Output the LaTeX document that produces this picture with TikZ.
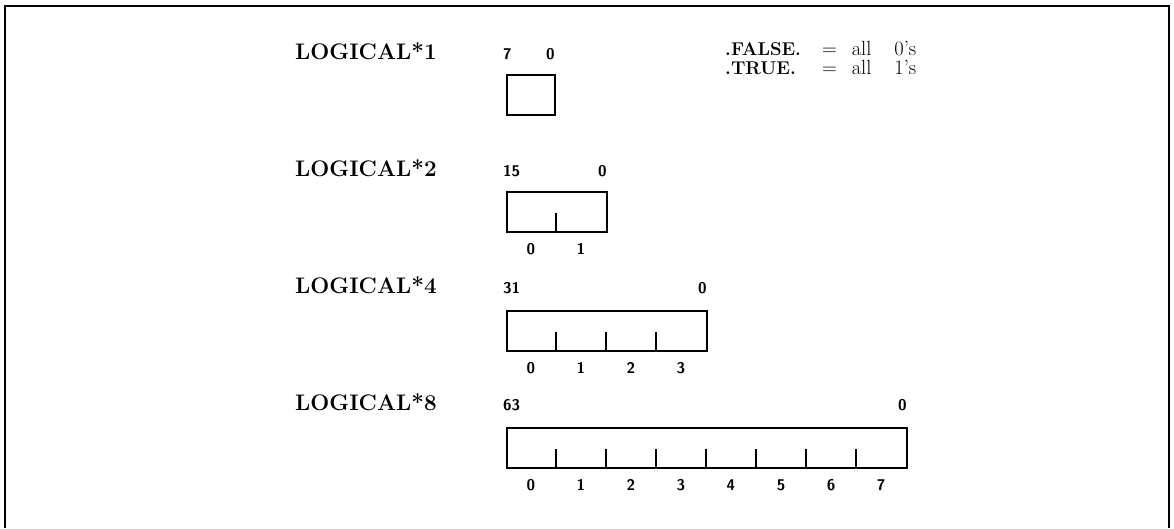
\documentclass[tikz,border=0pt]{standalone}
\usetikzlibrary{positioning,calc}
\begin{document}
\begin{tikzpicture}[
  x=1pt, y=-1pt,
  kind/.style={font=\fontsize{22.5}{24}\selectfont\bfseries, anchor=base west, inner sep=0pt},
  bitno/.style={font=\fontsize{15.5}{17}\selectfont\sffamily\bfseries, inner sep=0pt},
  word/.style={draw, line width=1.8pt, minimum height=40pt, inner sep=0pt, anchor=north west},
  split/.style={line width=1.6pt},
  frame/.style={line width=2.6pt},
  truth/.style={font=\fontsize{20.5}{16.5}\selectfont, anchor=base west, inner sep=0pt}
]
\useasboundingbox (0,0) rectangle (1174,528);
\coordinate (fbl) at (5,528);
\coordinate (ftl) at (5,6);
\coordinate (ftr) at (1169,6);
\coordinate (fbr) at (1169,528);
\draw[frame] (fbl) -- (ftl) -- (ftr) -- (fbr);

\foreach \n/\ytop/\lift/\hi in {1/74/15/7, 2/191/15/15, 4/310/17/31, 8/427/17/63} {
  \node[kind] (type\n) at (295,\ytop-\lift) {LOGICAL*\n};
  \node[word, minimum width={50*\n-2*(\n==1)}] (w\n) at (506,\ytop) {};
  \node[bitno, anchor=base west] (hi\n) at ($(w\n.north west)+(-3,-\lift)$) {\hi};
  \node[bitno, anchor=base east] (lo\n) at ($(w\n.north east)+(-1,-\lift)$) {0};
  \pgfmathtruncatemacro\last{\n-1}
  \ifnum\n>1
    \foreach \i in {1,...,\last}
      \draw[split] ($(w\n.south west)+(50*\i,0)$) -- ++(0,-20);
    \foreach \i in {0,...,\last}
      \node[bitno, anchor=base] (b\n-\i) at ($(w\n.south west)+(50*\i+25,22)$) {\i};
  \fi
}

\node[truth] (truth) at (725,55)
  {\begin{tabular}[t]{@{}l@{\hspace{21pt}}l@{\hspace{15pt}}l@{\hspace{23pt}}l@{}}
   {\fontsize{18.5}{16.5}\selectfont\bfseries .FALSE.} & = & all & 0's\\
   {\fontsize{18.5}{16.5}\selectfont\bfseries .TRUE.} & = & all & 1's
   \end{tabular}};
\end{tikzpicture}
\end{document}
